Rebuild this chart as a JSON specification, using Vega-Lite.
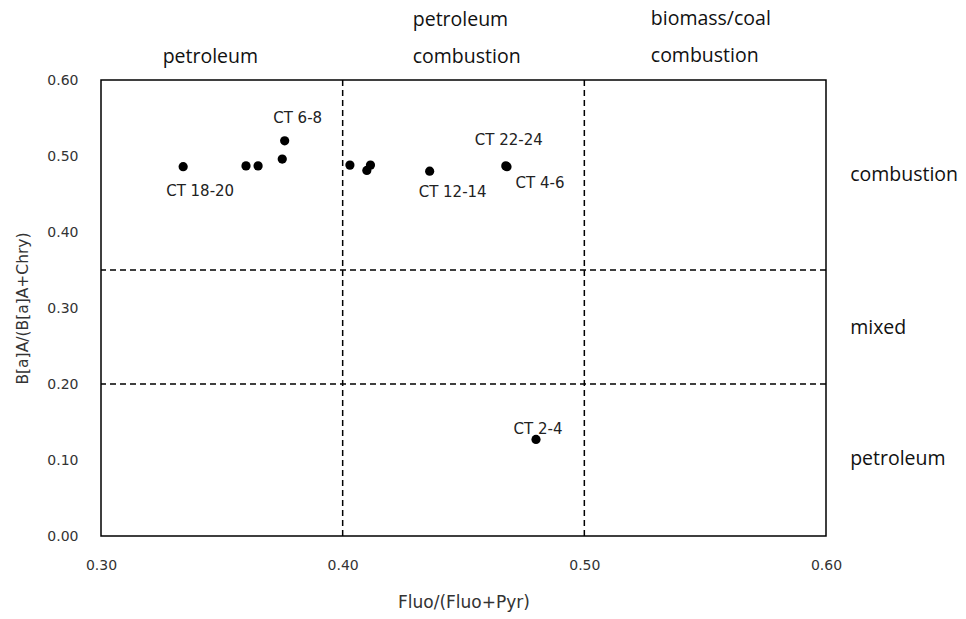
{
  "$schema": "https://vega.github.io/schema/vega-lite/v6.json",
  "width": 725,
  "height": 456,
  "autosize": {"type": "none"},
  "padding": {"left": 101, "top": 80, "right": 140, "bottom": 83},
  "background": "white",
  "config": {
    "view": {"stroke": "black", "strokeWidth": 1.5},
    "axis": {"grid": false, "domain": false, "ticks": false, "labelFont": "DejaVu Sans", "labelFontSize": 14, "labelColor": "#333", "titleFont": "DejaVu Sans", "titleFontWeight": "normal", "titleColor": "#333"}
  },
  "datasets": {
    "pts": [
      {"sample": "CT 18-20", "fluo": 0.334, "baa": 0.486},
      {"sample": "CT 8-10", "fluo": 0.360, "baa": 0.487},
      {"sample": "CT 10-12", "fluo": 0.365, "baa": 0.487},
      {"sample": "CT 0-2", "fluo": 0.375, "baa": 0.496},
      {"sample": "CT 6-8", "fluo": 0.376, "baa": 0.520},
      {"sample": "CT 14-16", "fluo": 0.403, "baa": 0.488},
      {"sample": "CT 16-18", "fluo": 0.410, "baa": 0.481},
      {"sample": "CT 20-22", "fluo": 0.4115, "baa": 0.488},
      {"sample": "CT 12-14", "fluo": 0.436, "baa": 0.480},
      {"sample": "CT 22-24", "fluo": 0.4675, "baa": 0.487},
      {"sample": "CT 4-6", "fluo": 0.468, "baa": 0.486},
      {"sample": "CT 2-4", "fluo": 0.480, "baa": 0.127}
    ],
    "vlines": [{"x": 0.4}, {"x": 0.5}],
    "hlines": [{"y": 0.35}, {"y": 0.2}],
    "notes": [
      {"text": "petroleum", "x": 0.3255, "y": 0.630},
      {"text": "petroleum", "x": 0.429, "y": 0.679},
      {"text": "combustion", "x": 0.429, "y": 0.630},
      {"text": "biomass/coal", "x": 0.5275, "y": 0.680},
      {"text": "combustion", "x": 0.5275, "y": 0.631},
      {"text": "combustion", "x": 0.610, "y": 0.475},
      {"text": "mixed", "x": 0.610, "y": 0.274},
      {"text": "petroleum", "x": 0.610, "y": 0.101}
    ]
  },
  "layer": [
    {
      "data": {"name": "vlines"},
      "mark": {"type": "rule", "strokeDash": [6, 4], "strokeWidth": 1.5, "color": "black"},
      "encoding": {"x": {"field": "x", "type": "quantitative", "scale": {"domain": [0.3, 0.6]}}}
    },
    {
      "data": {"name": "hlines"},
      "mark": {"type": "rule", "strokeDash": [6, 4], "strokeWidth": 1.5, "color": "black"},
      "encoding": {"y": {"field": "y", "type": "quantitative", "scale": {"domain": [0, 0.6]}}}
    },
    {
      "data": {"name": "pts"},
      "mark": {"type": "point", "filled": true, "shape": "circle", "size": 85, "color": "black", "opacity": 1},
      "encoding": {
        "x": {"field": "fluo", "type": "quantitative", "scale": {"domain": [0.3, 0.6], "nice": false, "zero": false}, "axis": {"values": [0.3, 0.4, 0.5, 0.6], "format": ".2f", "labelFlush": false, "labelPadding": 22, "title": "Fluo/(Fluo+Pyr)", "titleFontSize": 17, "titlePadding": 22}},
        "y": {"field": "baa", "type": "quantitative", "scale": {"domain": [0, 0.6], "nice": false, "zero": false}, "axis": {"values": [0, 0.1, 0.2, 0.3, 0.4, 0.5, 0.6], "format": ".2f", "labelFlush": false, "labelPadding": 23, "title": "B[a]A/(B[a]A+Chry)", "titleFontSize": 15.5, "titlePadding": 16}}
      }
    },
    {
      "data": {"name": "pts"},
      "transform": [{"filter": "datum.sample == 'CT 18-20'"}],
      "mark": {"type": "text", "font": "DejaVu Sans", "fontSize": 15, "color": "#222", "dx": 17, "dy": 24},
      "encoding": {"x": {"field": "fluo", "type": "quantitative"}, "y": {"field": "baa", "type": "quantitative"}, "text": {"field": "sample"}}
    },
    {
      "data": {"name": "pts"},
      "transform": [{"filter": "datum.sample == 'CT 6-8'"}],
      "mark": {"type": "text", "font": "DejaVu Sans", "fontSize": 15, "color": "#222", "dx": 13, "dy": -23},
      "encoding": {"x": {"field": "fluo", "type": "quantitative"}, "y": {"field": "baa", "type": "quantitative"}, "text": {"field": "sample"}}
    },
    {
      "data": {"name": "pts"},
      "transform": [{"filter": "datum.sample == 'CT 12-14'"}],
      "mark": {"type": "text", "font": "DejaVu Sans", "fontSize": 15, "color": "#222", "dx": 23, "dy": 21},
      "encoding": {"x": {"field": "fluo", "type": "quantitative"}, "y": {"field": "baa", "type": "quantitative"}, "text": {"field": "sample"}}
    },
    {
      "data": {"name": "pts"},
      "transform": [{"filter": "datum.sample == 'CT 22-24'"}],
      "mark": {"type": "text", "font": "DejaVu Sans", "fontSize": 15, "color": "#222", "dx": 3, "dy": -26},
      "encoding": {"x": {"field": "fluo", "type": "quantitative"}, "y": {"field": "baa", "type": "quantitative"}, "text": {"field": "sample"}}
    },
    {
      "data": {"name": "pts"},
      "transform": [{"filter": "datum.sample == 'CT 4-6'"}],
      "mark": {"type": "text", "font": "DejaVu Sans", "fontSize": 15, "color": "#222", "dx": 33, "dy": 16},
      "encoding": {"x": {"field": "fluo", "type": "quantitative"}, "y": {"field": "baa", "type": "quantitative"}, "text": {"field": "sample"}}
    },
    {
      "data": {"name": "pts"},
      "transform": [{"filter": "datum.sample == 'CT 2-4'"}],
      "mark": {"type": "text", "font": "DejaVu Sans", "fontSize": 15, "color": "#222", "dx": 2, "dy": -10},
      "encoding": {"x": {"field": "fluo", "type": "quantitative"}, "y": {"field": "baa", "type": "quantitative"}, "text": {"field": "sample"}}
    },
    {
      "data": {"name": "notes"},
      "mark": {"type": "text", "align": "left", "baseline": "middle", "font": "Open Sans", "fontSize": 19.5, "color": "#111", "clip": false},
      "encoding": {"x": {"field": "x", "type": "quantitative"}, "y": {"field": "y", "type": "quantitative"}, "text": {"field": "text"}}
    }
  ]
}
